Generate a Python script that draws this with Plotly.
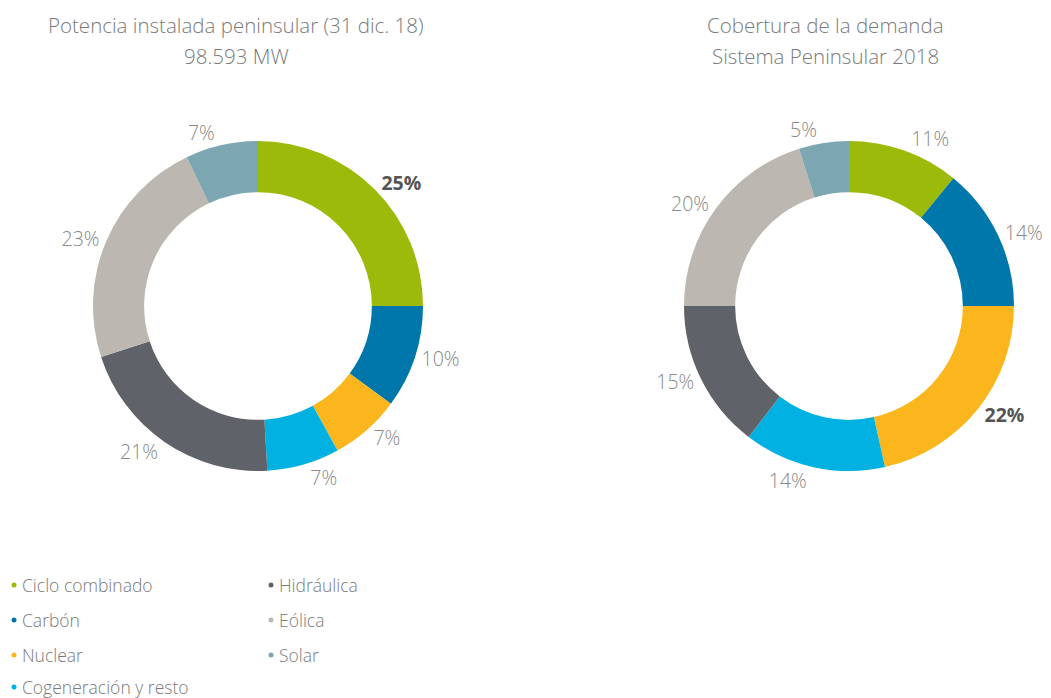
import plotly.graph_objects as go

categories = ["Ciclo combinado", "Carbón", "Nuclear", "Cogeneración y resto",
              "Hidráulica", "Eólica", "Solar"]
potencia_pct = [25.0, 10.1, 6.9, 7.1, 20.9, 22.9, 7.1]
cobertura_pct = [10.9, 14.1, 21.5, 13.9, 14.6, 20.1, 4.9]
title_left = ["Potencia instalada peninsular (31 dic. 18)", "98.593 MW"]
title_right = ["Cobertura de la demanda", "Sistema Peninsular 2018"]

colors = ["#9cba0a", "#0077aa", "#fbb61e", "#00b1e1", "#5f6369", "#bcb7b0", "#7ca7b2"]
W, H = 1051, 698
FONT = "Open Sans"
GRAY = "#888888"


def templ(vals):
    m = max(vals)
    return ["<b>%{percent:.0%}</b>" if v == m else "%{percent:.0%}" for v in vals]


def tcolors(vals):
    m = max(vals)
    return ["#555555" if v == m else GRAY for v in vals]


def dom_x(cx, r=165):
    return [(cx - r) / W, (cx + r) / W]


dom_y = [(H - 471) / H, (H - 141) / H]

fig = go.Figure()
for vals, cx in [(potencia_pct, 258), (cobertura_pct, 849)]:
    fig.add_trace(go.Pie(
        labels=categories, values=vals, sort=False, direction="clockwise",
        rotation=0, hole=0.69,
        marker=dict(colors=colors, line=dict(width=0)),
        textposition="outside", texttemplate=templ(vals),
        outsidetextfont=dict(family=FONT, size=19.5, color=tcolors(vals), weight=300),
        domain=dict(x=dom_x(cx), y=dom_y), showlegend=False,
        hoverinfo="label+percent",
    ))

annotations = []
for lines, cx in [(title_left, 236), (title_right, 825)]:
    for i, t in enumerate(lines):
        annotations.append(dict(
            text=t, x=cx / W, y=1 - (25 + 31 * i) / H, xref="paper", yref="paper",
            xanchor="center", yanchor="middle", showarrow=False,
            font=dict(family=FONT, size=20.5, color="#7a7a7a", weight=300)))

shapes = []
col_x = [14, 271]
row_y = [585, 620, 655, 687]
for i, (cat, col) in enumerate(zip(categories, colors)):
    c = 0 if i < 4 else 1
    r = i if i < 4 else i - 4
    x = col_x[c]
    y = row_y[r]
    shapes.append(dict(type="circle", xref="paper", yref="paper",
                       x0=(x - 2.5) / W, x1=(x + 2.5) / W,
                       y0=1 - (y + 2.5) / H, y1=1 - (y - 2.5) / H,
                       fillcolor=col, line=dict(width=0)))
    annotations.append(dict(
        text=cat, x=(x + 6) / W, y=1 - y / H, xref="paper", yref="paper",
        xanchor="left", yanchor="middle", showarrow=False,
        font=dict(family=FONT, size=17.5, color="#7a7a7a", weight=300)))

fig.update_layout(
    width=W, height=H, margin=dict(l=0, r=0, t=0, b=0),
    paper_bgcolor="white", plot_bgcolor="white",
    annotations=annotations, shapes=shapes,
)
fig.write_html("out.html", config={"displayModeBar": False},
               post_script="document.body.style.margin='0';")
